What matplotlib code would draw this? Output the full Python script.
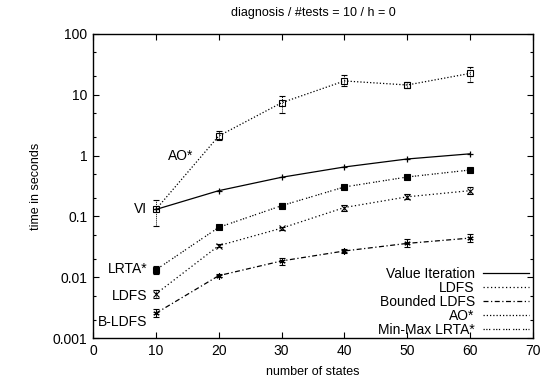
import matplotlib
matplotlib.use("Agg")
import matplotlib.pyplot as plt
from matplotlib.lines import Line2D
from matplotlib.ticker import LogLocator, FixedLocator, NullFormatter
import numpy as np

plt.rcParams['font.family'] = ['Liberation Sans', 'DejaVu Sans']

states = [10, 20, 30, 40, 50, 60]

vi = [0.13, 0.265, 0.44, 0.65, 0.88, 1.07]

ldfs = [0.0053, 0.033, 0.064, 0.14, 0.21, 0.265]
ldfs_lo = [0.0045, 0.031, 0.060, 0.125, 0.19, 0.235]
ldfs_hi = [0.0062, 0.035, 0.068, 0.155, 0.23, 0.30]

bldfs = [0.00255, 0.0106, 0.0185, 0.027, 0.036, 0.044]
bldfs_lo = [0.0022, 0.0099, 0.016, 0.025, 0.031, 0.038]
bldfs_hi = [0.0030, 0.0113, 0.021, 0.029, 0.042, 0.051]

ao = [0.13, 2.1, 7.4, 16.9, 14.5, 22.5]
ao_lo = [0.07, 1.8, 5.1, 14.0, 13.0, 16.0]
ao_hi = [0.185, 2.5, 9.6, 21.0, 16.0, 29.0]

lrta = [0.0132, 0.066, 0.15, 0.305, 0.445, 0.58]
lrta_lo = [0.0115, 0.063, 0.14, 0.29, 0.43, 0.55]
lrta_hi = [0.015, 0.069, 0.165, 0.32, 0.46, 0.61]

legend_names = ["Value Iteration", "LDFS", "Bounded LDFS", "AO*", "Min-Max LRTA*"]
curve_labels = ["AO*", "VI", "LRTA*", "LDFS", "B-LDFS"]
label_pos_x = [16.0, 8.6, 8.6, 8.6, 8.6]
label_pos_y = [1.0, 0.13, 0.0135, 0.0049, 0.0018]

fig = plt.figure(figsize=(5.46, 3.84), dpi=100)
ax = fig.add_axes([93/546, 46/384, 440/546, 304/384])

ls_vi = '-'
ls_ldfs = (0, (1, 2))
ls_bldfs = (0, (4, 2, 1, 2))
ls_ao = (0, (1, 1.6))
ls_lrta = (0, (1, 1.2, 1, 1.2, 1, 2.5))

def errs(v, lo, hi):
    v = np.array(v); lo = np.array(lo); hi = np.array(hi)
    return np.vstack([v - lo, hi - v])

lw = 0.9
ax.plot(states, vi, color='black', ls=ls_vi, lw=lw, marker='+', ms=5, mew=0.9)

def eb(y, lo, hi, ls, marker, mfc):
    res = ax.errorbar(states, y, yerr=errs(y, lo, hi), color='black', ls=ls, lw=lw,
                      marker=marker, ms=4.5, mew=0.8, mfc=mfc, capsize=2,
                      elinewidth=0.7, capthick=0.7)
    for c in res[2]:
        c.set_linestyle((0, (1, 1)))
    return res

eb(ldfs, ldfs_lo, ldfs_hi, ls_ldfs, 'x', 'black')
eb(bldfs, bldfs_lo, bldfs_hi, ls_bldfs, (6, 2, 0), 'black')
eb(ao, ao_lo, ao_hi, ls_ao, 's', 'none')
eb(lrta, lrta_lo, lrta_hi, ls_lrta, 's', 'black')

for t, x, y in zip(curve_labels, label_pos_x, label_pos_y):
    ax.text(x, y, t, ha='right', va='center', fontsize=10)

ax.set_yscale('log')
ax.set_xlim(0, 70)
ax.set_ylim(0.001, 100)
ax.xaxis.set_major_locator(FixedLocator([0, 10, 20, 30, 40, 50, 60, 70]))
ax.yaxis.set_major_locator(FixedLocator([0.001, 0.01, 0.1, 1, 10, 100]))
ax.set_yticklabels(['0.001', '0.01', '0.1', '1', '10', '100'])
ax.yaxis.set_minor_locator(LogLocator(base=10, subs=(2.0, 5.0), numticks=20))
ax.yaxis.set_minor_formatter(NullFormatter())
ax.tick_params(which='both', direction='in', top=True, right=True, labelsize=10, pad=4)
ax.tick_params(which='major', length=4, width=0.8)
ax.tick_params(which='minor', length=2, width=0.8)
for s in ax.spines.values():
    s.set_linewidth(1.0)

ax.set_xlabel('number of states', fontsize=9, labelpad=6)
ax.set_ylabel('time in seconds', fontsize=9, labelpad=8)
ax.set_title('diagnosis / #tests = 10 / h = 0', fontsize=9, pad=13)

handles = [
    Line2D([], [], color='black', ls=ls_vi, lw=lw),
    Line2D([], [], color='black', ls=ls_ldfs, lw=lw),
    Line2D([], [], color='black', ls=ls_bldfs, lw=lw),
    Line2D([], [], color='black', ls=ls_ao, lw=lw),
    Line2D([], [], color='black', ls=ls_lrta, lw=lw),
]
ax.legend(handles, legend_names, loc='lower right', bbox_to_anchor=(1.0, -0.01),
          frameon=False, markerfirst=False, fontsize=10, labelspacing=0.0,
          handlelength=3.3, handletextpad=0.6, borderaxespad=0.2, borderpad=0.1)

fig.savefig('out.png', dpi=100)
